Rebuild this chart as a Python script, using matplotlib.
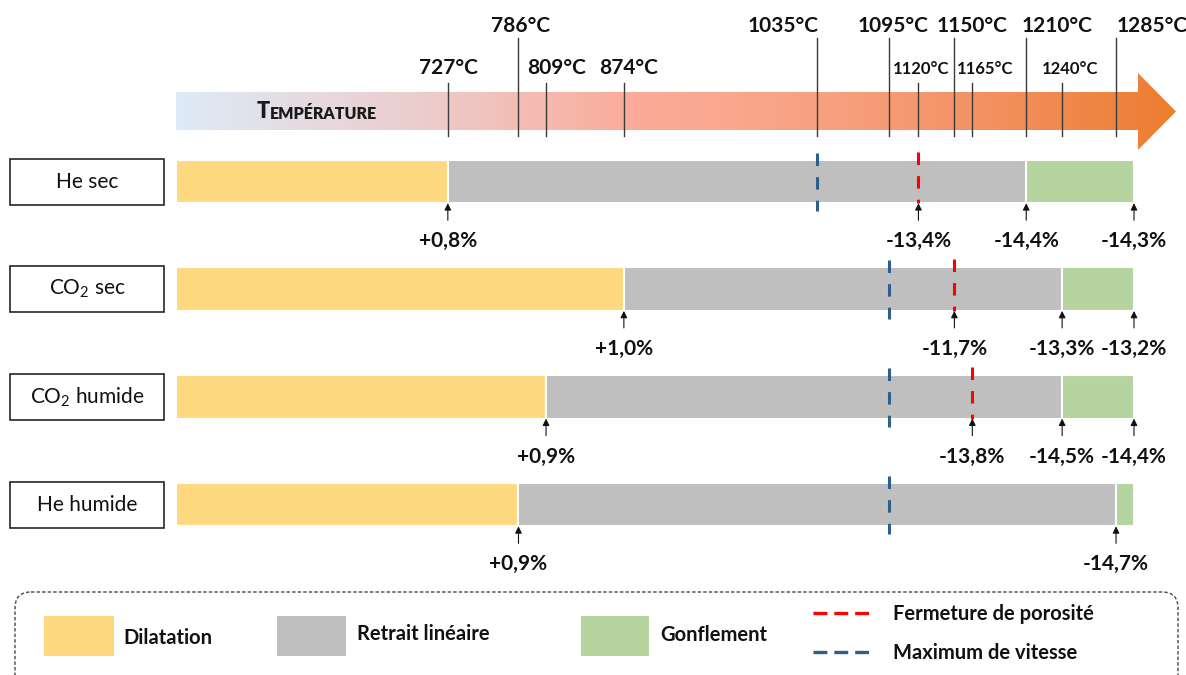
import numpy as np
import matplotlib
matplotlib.use('Agg')
import matplotlib.pyplot as plt
from matplotlib.patches import Rectangle, Polygon, FancyBboxPatch
from matplotlib.colors import LinearSegmentedColormap

plt.rcParams['font.family'] = ['Lato', 'DejaVu Sans']
plt.rcParams['mathtext.fontset'] = 'custom'
plt.rcParams['mathtext.rm'] = 'Lato'
plt.rcParams['lines.scale_dashes'] = False

# essais, de haut en bas
conditions = ['He sec', 'CO$_\\mathregular{2}$ sec', 'CO$_\\mathregular{2}$ humide', 'He humide']
t_start = 500
t_end = 1300
t_dilatation_end = [727, 874, 809, 786]
t_retrait_end = [1210, 1240, 1240, 1285]
t_max_vitesse = [1035, 1095, 1095, 1095]
t_fermeture = [1120, 1150, 1165, None]

# retrait mesuré aux points remarquables
mark_temps = [[727, 1120, 1210, 1300],
              [874, 1150, 1240, 1300],
              [809, 1165, 1240, 1300],
              [786, 1285]]
mark_labels = [['+0,8%', '-13,4%', '-14,4%', '-14,3%'],
               ['+1,0%', '-11,7%', '-13,3%', '-13,2%'],
               ['+0,9%', '-13,8%', '-14,5%', '-14,4%'],
               ['+0,9%', '-14,7%']]

# températures repérées sur la flèche
temp_ticks = [727, 786, 809, 874, 1035, 1095, 1120, 1150, 1165, 1210, 1240, 1285]
temp_level = ['low', 'high', 'low', 'low', 'high', 'high', 'small', 'high', 'small', 'high', 'small', 'high']
temp_dx = [1, 2, 11, 5, -34, 5, 3, 18, 13, 31, 8, 36]

c_dil = '#FFD980'
c_ret = '#BFBFBF'
c_gon = '#B5D4A0'
c_red = '#FF0000'
c_blue = '#2E5E8C'

W, H = 1186, 675
bar_left_px, bar_right_px = 176, 1134
scale = (bar_right_px - bar_left_px) / (t_end - t_start)


def px2t(p):
    return t_start + (p - bar_left_px) / scale


fig = plt.figure(figsize=(W / 100, H / 100), dpi=100)
ax = fig.add_axes([0, 0, 1, 1])
lay = fig.add_axes([0, 0, 1, 1], facecolor='none')
for a in (ax, lay):
    a.axis('off')

# flèche de température en dégradé
cmap = LinearSegmentedColormap.from_list('temp', [
    (0.0, '#DDEBF7'), (0.27, '#EEC9C8'), (0.45, '#FBAC9A'),
    (0.64, '#F8A283'), (0.83, '#F28F5C'), (1.0, '#ED7D31')])
x_base, x_tip = px2t(1138), px2t(1176)
verts = [(t_start, 92), (x_base, 92), (x_base, 73), (x_tip, 111.5),
         (x_base, 150), (x_base, 130), (t_start, 130)]
arrow = Polygon(verts, closed=True, facecolor='none', edgecolor='none')
ax.add_patch(arrow)
grad = np.linspace(0, 1, 512).reshape(1, -1)
im = ax.imshow(grad, cmap=cmap, extent=(t_start, x_tip, 150, 73),
               aspect='auto', interpolation='bilinear')
im.set_clip_path(arrow)

t_txt = ax.text(px2t(257), 118, 'T', fontsize=15.5, fontweight='heavy',
                color='#1a1a1a', va='baseline', ha='left')
ax.annotate('EMPÉRATURE', xy=(1, 0), xycoords=t_txt, fontsize=11.5,
            fontweight='heavy', color='#1a1a1a', va='bottom', ha='left')

for t, lvl, dx in zip(temp_ticks, temp_level, temp_dx):
    if lvl == 'high':
        y_line, y_lab, fs = 38, 26, 15
    elif lvl == 'low':
        y_line, y_lab, fs = 83, 68, 15
    else:
        y_line, y_lab, fs = 83, 69, 12
    ax.plot([t, t], [y_line, 136], color='#3a3a3a', lw=1)
    ax.text(t + dx / scale, y_lab, f'{t}°C', fontsize=fs, fontweight='bold',
            color='#111111', ha='center', va='center')

# barres par essai
row_y = 181.5 + 107.7 * np.arange(len(conditions))
bar_h = 43.5
for i, name in enumerate(conditions):
    y = row_y[i]
    ax.barh(y, t_dilatation_end[i] - t_start, left=t_start, height=bar_h,
            color=c_dil, edgecolor='white', linewidth=1.5)
    ax.barh(y, t_retrait_end[i] - t_dilatation_end[i], left=t_dilatation_end[i],
            height=bar_h, color=c_ret, edgecolor='white', linewidth=1.5)
    ax.barh(y, t_end - t_retrait_end[i], left=t_retrait_end[i], height=bar_h,
            color=c_gon, edgecolor='white', linewidth=1.5)

    top, bot = y - bar_h / 2, y + bar_h / 2
    ax.plot([t_max_vitesse[i]] * 2, [top - 7, bot + 8], color=c_blue, lw=2.2,
            dashes=(9, 8), dash_capstyle='butt')
    if t_fermeture[i] is not None:
        ax.plot([t_fermeture[i]] * 2, [top - 8, bot], color=c_red, lw=2.2,
                dashes=(9, 8), dash_capstyle='butt')

    for t, lab in zip(mark_temps[i], mark_labels[i]):
        ax.annotate('', xy=(t, bot), xytext=(t, bot + 17),
                    arrowprops=dict(arrowstyle='-|>', color='#111111', lw=0.8,
                                    mutation_scale=10, shrinkA=0, shrinkB=0))
        ax.text(t, bot + 38, lab, fontsize=15, fontweight='bold',
                color='#111111', ha='center', va='center')

    lay.add_patch(Rectangle((10, y - 23), 154, 46, fill=False,
                            edgecolor='#262626', lw=1.2))
    lay.text(87, y, name, fontsize=15, color='#111111', ha='center', va='center')

# légende
lay.add_patch(FancyBboxPatch((15, 592), 1163, 120,
                             boxstyle='round,pad=0,rounding_size=16', fill=False,
                             edgecolor='#595959', lw=1.1, linestyle=(0, (2.5, 1.5))))
for x0, w, c, lab, x_lab, y_lab in [(44, 70, c_dil, 'Dilatation', 123, 638),
                                    (277, 69, c_ret, 'Retrait linéaire', 357, 634),
                                    (581, 68, c_gon, 'Gonflement', 660, 635)]:
    lay.add_patch(Rectangle((x0, 616), w, 40, facecolor=c, edgecolor='none'))
    lay.text(x_lab, y_lab, lab, fontsize=14.5, fontweight='bold', color='#111111',
             ha='left', va='center')
for c, lab, y in [(c_red, 'Fermeture de porosité', 613),
                  (c_blue, 'Maximum de vitesse', 652)]:
    lay.plot([813, 874], [y, y], color=c, lw=2.4, dashes=(10, 5), dash_capstyle='butt')
    lay.text(893, y + 1, lab, fontsize=14.5, fontweight='bold', color='#111111',
             ha='left', va='center')

ax.set_xlim(px2t(0), px2t(W))
ax.set_ylim(H, 0)
lay.set_xlim(0, W)
lay.set_ylim(H, 0)

fig.savefig('out.png', dpi=100)
